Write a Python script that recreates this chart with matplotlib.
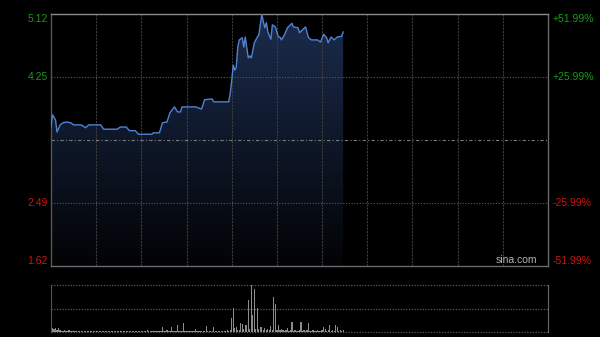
import numpy as np
import matplotlib
matplotlib.use("Agg")
import matplotlib.pyplot as plt
from matplotlib.colors import LinearSegmentedColormap

plt.rcParams['font.family'] = ['Liberation Sans', 'DejaVu Sans']

# price axis: previous close in the middle, symmetric range
prev_close = 3.37
price_ticks = [1.62, 2.49, 3.37, 4.25, 5.12]
price_labels = ["1.62", "2.49", "", "4.25", "5.12"]
pct_labels = ["-51.99%", "-25.99%", "", "+25.99%", "+51.99%"]
session_minutes = 330  # 9:30-12:00 + 13:00-16:00

# intraday price path (minute, price)
minutes = [0, 1, 3, 4, 6, 8, 10, 13, 15, 20, 23, 25, 33, 35, 44, 46, 50, 52, 56, 58,
           67, 68, 72, 74, 77, 79, 82, 84, 86, 87, 96, 100, 102, 107, 108, 118, 119, 120, 121, 122,
           123, 124, 125, 127, 128, 129, 130, 131, 132, 133, 135, 137, 138, 140, 141, 142, 143, 144, 146, 147,
           149, 151, 152, 153, 155, 157, 160, 161, 164, 165, 167, 169, 171, 173, 177, 179, 181, 183, 184, 186,
           188, 190, 193, 194]
prices = [3.55, 3.72, 3.65, 3.48, 3.58, 3.61, 3.62, 3.61, 3.58, 3.58, 3.54, 3.58, 3.58, 3.52, 3.52, 3.55, 3.55, 3.50, 3.50, 3.45,
          3.45, 3.47, 3.47, 3.61, 3.62, 3.75, 3.83, 3.76, 3.76, 3.83, 3.83, 3.80, 3.93, 3.94, 3.90, 3.90, 4.02, 4.20, 4.41, 4.34,
          4.38, 4.66, 4.76, 4.79, 4.66, 4.80, 4.65, 4.51, 4.54, 4.51, 4.72, 4.80, 4.83, 5.12, 5.01, 4.93, 5.00, 4.87, 4.77, 4.97,
          4.94, 4.80, 4.80, 4.76, 4.83, 4.93, 4.99, 4.94, 4.93, 4.86, 4.90, 4.94, 4.79, 4.76, 4.76, 4.73, 4.84, 4.79, 4.72, 4.80,
          4.76, 4.80, 4.81, 4.87]

# per-minute volume (relative units)
volume = [10, 4, 3, 4, 2, 4, 2, 1, 1, 2,
          1, 1, 2, 1, 1, 1, 1, 1, 1, 1,
          1, 1, 1, 1, 1, 1, 1, 1, 1, 1,
          1, 1, 1, 1, 1, 1, 1, 1, 1, 1,
          1, 1, 1, 1, 1, 1, 1, 1, 1, 1,
          1, 1, 1, 1, 1, 1, 1, 1, 1, 1,
          1, 1, 1, 1, 2, 1, 1, 1, 1, 1,
          1, 1, 1, 1, 5, 1, 1, 2, 1, 1,
          5, 1, 1, 1, 7, 1, 1, 1, 9, 1,
          1, 1, 1, 1, 1, 1, 3, 1, 1, 1,
          1, 1, 1, 6, 1, 1, 1, 1, 5, 1,
          1, 1, 1, 1, 1, 1, 1, 2, 1, 2,
          14, 24, 4, 5, 2, 2, 9, 8, 3, 7,
          7, 32, 3, 47, 17, 43, 3, 24, 3, 5,
          5, 2, 4, 2, 3, 2, 6, 2, 35, 28,
          2, 7, 2, 3, 2, 1, 2, 4, 1, 2,
          10, 1, 2, 1, 1, 2, 10, 1, 2, 1,
          2, 9, 1, 1, 2, 1, 1, 2, 1, 1,
          2, 5, 3, 1, 2, 7, 1, 2, 1, 7,
          5, 1, 2, 1, 2]

green = '#1a9a1a'
red = '#d01414'

fig = plt.figure(figsize=(6, 3.37), dpi=100, facecolor='black')
ax = fig.add_axes([51 / 600, 71 / 337, 497 / 600, 252 / 337])
vax = fig.add_axes([51 / 600, 5 / 337, 497 / 600, 47 / 337])

# --- price panel ---
ax.set_facecolor('black')
grad = np.linspace(1, 0, 256).reshape(-1, 1)
cmap = LinearSegmentedColormap.from_list('fill', ['#020305', '#1b2c4d'])
im = ax.imshow(grad, aspect='auto', cmap=cmap, origin='upper',
               extent=[0, session_minutes, price_ticks[0], price_ticks[-1]], zorder=1)
poly = ax.fill_between(minutes, prices, price_ticks[0], facecolor='none', edgecolor='none')
im.set_clip_path(poly.get_paths()[0], transform=ax.transData)
ax.plot(minutes, prices, color='#5082d2', lw=1.0, zorder=3)

ax.set_xlim(0, session_minutes)
ax.set_ylim(price_ticks[0], price_ticks[-1])

for m in range(30, session_minutes, 30):
    ax.axvline(m, color='#3c3c3c', lw=0.8, ls=(0, (2, 1)), zorder=2)
for p in (price_ticks[1], price_ticks[3]):
    ax.axhline(p, color='#5a5a5a', lw=0.8, ls=(0, (1, 1.5)), zorder=2)
ax.axhline(prev_close, color='#7a7a7a', lw=0.8, ls=(0, (3, 2, 1, 2)), zorder=2)

ax.set_xticks([])
ax.set_yticks([])
ax.spines['top'].set_color('#8a8a8a')
ax.spines['left'].set_color('#555555')
ax.spines['right'].set_color('#6a6a6a')
ax.spines['bottom'].set_color('#6a6a6a')
for s in ax.spines.values():
    s.set_linewidth(1.0)

for i, (p, lab, pct) in enumerate(zip(price_ticks, price_labels, pct_labels)):
    if not lab:
        continue
    col = green if p > prev_close else red
    va = 'top' if i == len(price_ticks) - 1 else ('bottom' if i == 0 else 'center')
    ax.text(-0.006, p, lab, transform=ax.get_yaxis_transform(), ha='right', va=va,
            color=col, fontsize=7.5)
    ax.text(1.01, p, pct, transform=ax.get_yaxis_transform(), ha='left', va=va,
            color=col, fontsize=7.5)

ax.text(0.978, 0.005, 'sina.com', transform=ax.transAxes, ha='right', va='bottom',
        color='#b4b4b4', fontsize=7.5, zorder=4)

# --- volume panel ---
vax.set_facecolor('black')
vol_minutes = np.arange(len(volume))
vax.bar(vol_minutes, volume, width=0.8, color='#8c8c8c', zorder=2)
vmax = max(volume)
vax.set_xlim(0, session_minutes)
vax.set_ylim(0, vmax)
for v in (0, vmax / 2, vmax):
    vax.axhline(v, color='#5a5a5a', lw=0.9, ls=(0, (1, 1.2)), zorder=1, clip_on=False)
vax.set_xticks([])
vax.set_yticks([])
vax.spines['top'].set_visible(False)
vax.spines['bottom'].set_visible(False)
vax.spines['left'].set_color('#555555')
vax.spines['right'].set_color('#6a6a6a')

fig.savefig('out.png', dpi=100, facecolor='black')
